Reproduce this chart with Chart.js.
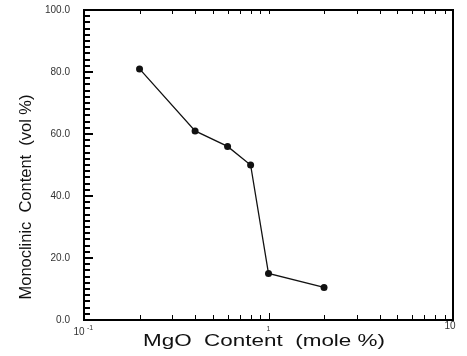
<!DOCTYPE html>
<html>
<head>
<meta charset="utf-8">
<script src="https://cdn.jsdelivr.net/npm/chart.js@4/dist/chart.umd.min.js"></script>
<style>
  html, body { margin: 0; padding: 0; background: #fff; }
  #wrap { width: 467px; height: 356px; position: relative; }
</style>
</head>
<body>
<div id="wrap"><canvas id="c" width="467" height="356"></canvas></div>
<script>
// MgO content (mole %) and monoclinic phase content (vol %)
const mgoContent = [0.2, 0.4, 0.6, 0.8, 1.0, 2.0];
const monoclinic = [81, 61, 56, 50, 15, 10.5];

// Axis tick values and labels
const yTickValues = [0, 20, 40, 60, 80, 100];
const yTickLabels = ['0.0', '20.0', '40.0', '60.0', '80.0', '100.0'];
const yMinorStep = 2;
const xMajorValues = [0.1, 1, 10];
const xMinorValues = [0.2, 0.3, 0.4, 0.5, 0.6, 0.7, 0.8, 0.9, 2, 3, 4, 5, 6, 7, 8, 9];

const xTitle = 'MgO  Content  (mole %)';
const yTitle = 'Monoclinic  Content  (vol %)';

const FONT = '"Liberation Sans", Arial, sans-serif';

// Draws the frame, inward ticks, tick labels and axis titles from the chart's scales
const axisDecor = {
  id: 'axisDecor',
  afterDraw(chart) {
    const ctx = chart.ctx;
    const xs = chart.scales.x, ys = chart.scales.y;
    const a = chart.chartArea;
    const L = Math.round(a.left), R = Math.round(a.right);
    const T = Math.round(a.top), B = Math.round(a.bottom);
    ctx.save();

    // plot frame
    ctx.fillStyle = '#000';
    ctx.fillRect(L - 1, T - 1, R - L + 2, 2);
    ctx.fillRect(L - 1, B - 1, R - L + 2, 2);
    ctx.fillRect(L - 1, T - 1, 2, B - T + 2);
    ctx.fillRect(R - 1, T - 1, 2, B - T + 2);

    // y ticks on left edge (pointing inward)
    for (let v = 0; v <= 100; v += yMinorStep) {
      const py = Math.round(ys.getPixelForValue(v));
      const len = (v % 20 === 0) ? 9 : 6;
      ctx.fillRect(L, py - 1, len, 2);
    }
    // x ticks on bottom and top edges
    xMinorValues.concat([1]).forEach(v => {
      const px = Math.round(xs.getPixelForValue(v));
      const len = v === 1 ? 7 : 5;
      ctx.fillRect(px, B - len, 1, len);
      ctx.fillRect(px, T, 1, 4);
    });

    // y tick labels
    ctx.fillStyle = '#333';
    ctx.font = '10px ' + FONT;
    ctx.textAlign = 'right';
    ctx.textBaseline = 'middle';
    yTickValues.forEach((v, i) => {
      ctx.fillText(yTickLabels[i], a.left - 14, ys.getPixelForValue(v));
    });

    // x tick labels
    ctx.textBaseline = 'alphabetic';
    ctx.textAlign = 'center';
    const x0 = xs.getPixelForValue(xMajorValues[0]);
    ctx.font = '10px ' + FONT;
    ctx.fillText('10', x0 - 5, a.bottom + 15);
    ctx.font = '7px ' + FONT;
    ctx.fillText('-1', x0 + 6, a.bottom + 10);
    ctx.fillText('1', xs.getPixelForValue(xMajorValues[1]), a.bottom + 11);
    ctx.font = '10px ' + FONT;
    ctx.fillText('10', xs.getPixelForValue(xMajorValues[2]) - 3, a.bottom + 9);

    // axis titles
    ctx.fillStyle = '#111';
    ctx.font = '17px ' + FONT;
    ctx.textAlign = 'center';
    ctx.textBaseline = 'middle';
    const xtw = ctx.measureText(xTitle).width;
    ctx.save();
    ctx.translate(264, a.bottom + 21);
    ctx.scale(242 / xtw, 1);
    ctx.fillText(xTitle, 0, 0);
    ctx.restore();

    const ytw = ctx.measureText(yTitle).width;
    ctx.save();
    ctx.translate(26, 197);
    ctx.rotate(-Math.PI / 2);
    ctx.scale(205 / ytw, 1);
    ctx.fillText(yTitle, 0, 0);
    ctx.restore();

    ctx.restore();
  }
};

new Chart(document.getElementById('c'), {
  type: 'scatter',
  data: {
    datasets: [{
      data: mgoContent.map((x, i) => ({ x: x, y: monoclinic[i] })),
      showLine: true,
      borderColor: '#111',
      borderWidth: 1.3,
      backgroundColor: '#111',
      pointRadius: 3.5,
      pointBackgroundColor: '#111',
      pointBorderWidth: 0,
      tension: 0
    }]
  },
  options: {
    responsive: false,
    animation: false,
    events: [],
    layout: { padding: { left: 76, right: 6, top: 2, bottom: 28 } },
    plugins: { legend: { display: false }, tooltip: { enabled: false } },
    scales: {
      x: {
        type: 'logarithmic',
        min: 0.1, max: 10,
        ticks: { display: false },
        grid: { display: false },
        border: { display: false }
      },
      y: {
        type: 'linear',
        min: 0, max: 100,
        ticks: { display: false },
        grid: { display: false },
        border: { display: false }
      },
      x2: {
        type: 'logarithmic', position: 'top',
        min: 0.1, max: 10,
        ticks: { display: false },
        grid: { display: false },
        border: { display: false }
      },
      y2: {
        type: 'linear', position: 'right',
        min: 0, max: 100,
        ticks: { display: false },
        grid: { display: false },
        border: { display: false }
      }
    }
  },
  plugins: [axisDecor]
});
</script>
</body>
</html>
